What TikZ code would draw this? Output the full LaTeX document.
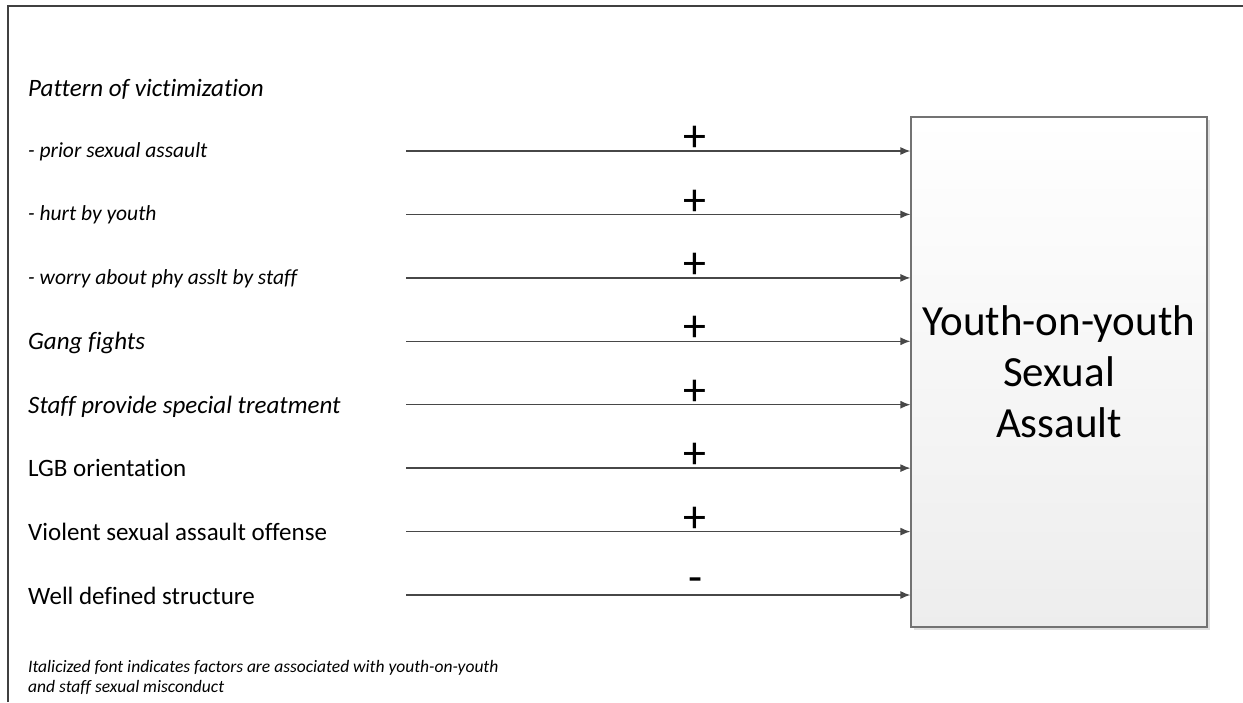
\documentclass[tikz,border=0pt]{standalone}
\usepackage{fontspec}
\setmainfont[Ligatures=NoCommon]{Carlito}
\usetikzlibrary{arrows.meta,shadows}
\begin{document}
\begin{tikzpicture}[x=1pt,y=-1pt,
  lab/.style={anchor=base west, inner sep=0pt, font=\fontsize{25}{30}\selectfont},
  ilab/.style={anchor=base west, inner sep=0pt, font=\fontsize{25}{30}\selectfont\itshape},
  sublab/.style={anchor=base west, inner sep=0pt, font=\fontsize{21.5}{26}\selectfont\itshape},
  note/.style={anchor=base west, inner sep=0pt, font=\fontsize{17.5}{22}\selectfont\itshape},
  conn/.style={draw=black!72, line width=1.3pt, -{Latex[length=10pt,width=8pt]}},
  sign/.style={font=\fontsize{46}{46}\selectfont, inner sep=0pt, anchor=center},
  frame/.style={draw=black!75, line width=1.4pt},
  target/.style={draw=black!55, line width=1.2pt, top color=white, bottom color=black!7,
    minimum width=296pt, minimum height=510pt, align=center, inner sep=0pt,
    font=\fontsize{43}{51}\selectfont,
    drop shadow={shadow xshift=3pt, shadow yshift=-3pt, fill=black!12, opacity=1}}
]
\useasboundingbox (0,0) rectangle (1243,702);
\draw[frame] (8,702) -- (8,6) -- (1243,6);

\node[target] (box) at (1059,372) {Youth-on-youth\\Sexual\\Assault};

\node[ilab] (hdr) at (28,96) {Pattern of victimization};

\node[sublab] (l1) at (28,157) {- prior sexual assault};
\node[sublab] (l2) at (28,220) {- hurt by youth};
\node[sublab] (l3) at (28,284) {- worry about phy asslt by staff};
\node[ilab] (l4) at (28,349) {Gang fights};
\node[ilab] (l5) at (28,413) {Staff provide special treatment};
\node[lab] (l6) at (28,476) {LGB orientation};
\node[lab] (l7) at (28,540) {Violent sexual assault offense};
\node[lab] (l8) at (28,604) {Well defined structure};

\coordinate (s1) at (406,151);
\coordinate (s2) at (406,214.4);
\coordinate (s3) at (406,277.9);
\coordinate (s4) at (406,341.3);
\coordinate (s5) at (406,404.7);
\coordinate (s6) at (406,468.1);
\coordinate (s7) at (406,531.6);
\coordinate (s8) at (406,595);

\foreach \i in {1,...,7}{
  \draw[conn] (s\i) -- (s\i -| box.west) node[sign, pos=0.572, yshift=12pt] (p\i) {+};
}
\draw[conn] (s8) -- (s8 -| box.west) node[sign, pos=0.575, yshift=10pt] (m8) {-};

\node[note] (n1) at (28,672) {Italicized font indicates factors are associated with youth-on-youth};
\node[note] (n2) at (28,692) {and staff sexual misconduct};
\end{tikzpicture}
\end{document}
